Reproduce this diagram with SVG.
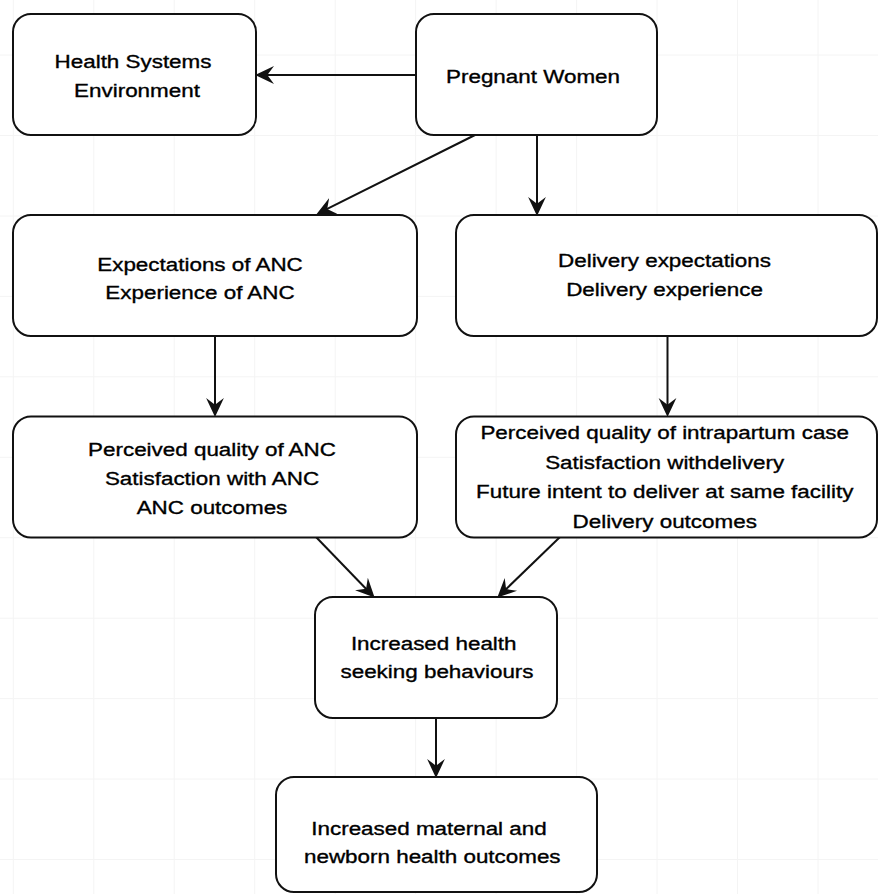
<svg xmlns="http://www.w3.org/2000/svg" width="878" height="894" viewBox="0 0 878 894">
<defs>
<style>
.grid line{stroke:#f4f4f4;stroke-width:1}
.node rect{fill:#fff;stroke:#111;stroke-width:2}
.node text{font-family:"Liberation Sans",Arial,sans-serif;font-size:19px;fill:#000;stroke:#000;stroke-width:0.35;text-anchor:middle}
.edges line{stroke:#111;stroke-width:2;fill:none;marker-end:url(#arr)}
</style>
<marker id="arr" markerUnits="userSpaceOnUse" markerWidth="20" markerHeight="20" viewBox="0 -9 18 18" refX="9" refY="0" orient="auto">
<path d="M17,0 L0,-8 L6,0 L0,8 Z" fill="#111"/>
</marker>
</defs>
<rect width="878" height="894" fill="#fff"/>
<g class="grid">
<line x1="13.3" y1="0" x2="13.3" y2="894"/>
<line x1="93.8" y1="0" x2="93.8" y2="894"/>
<line x1="174.2" y1="0" x2="174.2" y2="894"/>
<line x1="254.7" y1="0" x2="254.7" y2="894"/>
<line x1="335.2" y1="0" x2="335.2" y2="894"/>
<line x1="415.6" y1="0" x2="415.6" y2="894"/>
<line x1="496.1" y1="0" x2="496.1" y2="894"/>
<line x1="576.6" y1="0" x2="576.6" y2="894"/>
<line x1="657" y1="0" x2="657" y2="894"/>
<line x1="737.5" y1="0" x2="737.5" y2="894"/>
<line x1="818" y1="0" x2="818" y2="894"/>
<line x1="0" y1="55" x2="878" y2="55"/>
<line x1="0" y1="135.5" x2="878" y2="135.5"/>
<line x1="0" y1="216" x2="878" y2="216"/>
<line x1="0" y1="296.4" x2="878" y2="296.4"/>
<line x1="0" y1="376.8" x2="878" y2="376.8"/>
<line x1="0" y1="457.3" x2="878" y2="457.3"/>
<line x1="0" y1="537.7" x2="878" y2="537.7"/>
<line x1="0" y1="618.2" x2="878" y2="618.2"/>
<line x1="0" y1="698.6" x2="878" y2="698.6"/>
<line x1="0" y1="779" x2="878" y2="779"/>
<line x1="0" y1="859.5" x2="878" y2="859.5"/>
</g>
<g class="edges" id="connectors">
<line x1="416" y1="75" x2="264" y2="75"/>
<line x1="537" y1="135" x2="537" y2="207"/>
<line x1="475" y1="135" x2="324.2" y2="210.4"/>
<line x1="215" y1="336" x2="215" y2="408"/>
<line x1="667.5" y1="336" x2="667.5" y2="408"/>
<line x1="316" y1="537" x2="368.4" y2="591.2"/>
<line x1="560" y1="537" x2="503.7" y2="591.4"/>
<line x1="436" y1="718" x2="436" y2="769"/>
</g>
<g class="node" id="health-systems">
<rect x="13" y="14" width="243" height="121" rx="18"/>
<text transform="translate(133,0) scale(1.18,1)"><tspan x="0" y="68.3">Health Systems</tspan></text>
<text transform="translate(137,0) scale(1.18,1)"><tspan x="0" y="96.7">Environment</tspan></text>
</g>
<g class="node" id="pregnant-women">
<rect x="416" y="14" width="241" height="121" rx="18"/>
<text transform="translate(533,0) scale(1.18,1)"><tspan x="0" y="83">Pregnant Women</tspan></text>
</g>
<g class="node" id="anc-expectations">
<rect x="13" y="215" width="404" height="121" rx="18"/>
<text transform="translate(200,0) scale(1.18,1)"><tspan x="0" y="270.7">Expectations of ANC</tspan><tspan x="0" y="299.3">Experience of ANC</tspan></text>
</g>
<g class="node" id="delivery-expectations">
<rect x="456" y="215" width="421" height="121" rx="18"/>
<text transform="translate(664.5,0) scale(1.18,1)"><tspan x="0" y="266.7">Delivery expectations</tspan><tspan x="0" y="296">Delivery experience</tspan></text>
</g>
<g class="node" id="anc-quality">
<rect x="13" y="416.5" width="404" height="121" rx="18"/>
<text transform="translate(212,0) scale(1.18,1)"><tspan x="0" y="456">Perceived quality of ANC</tspan><tspan x="0" y="485">Satisfaction with ANC</tspan><tspan x="0" y="514">ANC outcomes</tspan></text>
</g>
<g class="node" id="delivery-quality">
<rect x="456" y="416.5" width="421" height="121" rx="18"/>
<text transform="translate(664.7,0) scale(1.18,1)"><tspan x="0" y="439.3">Perceived quality of intrapartum case</tspan><tspan x="0" y="469.3">Satisfaction withdelivery</tspan><tspan x="0" y="498.3">Future intent to deliver at same facility</tspan><tspan x="0" y="528.3">Delivery outcomes</tspan></text>
</g>
<g class="node" id="health-seeking">
<rect x="315" y="597" width="242" height="121" rx="18"/>
<text transform="translate(433.7,0) scale(1.18,1)"><tspan x="0" y="650">Increased health</tspan></text>
<text transform="translate(437,0) scale(1.18,1)"><tspan x="0" y="678.3">seeking behaviours</tspan></text>
</g>
<g class="node" id="health-outcomes">
<rect x="276" y="777" width="321" height="115" rx="18"/>
<text transform="translate(429,0) scale(1.18,1)"><tspan x="0" y="835">Increased maternal and</tspan></text>
<text transform="translate(432.3,0) scale(1.18,1)"><tspan x="0" y="863.3">newborn health outcomes</tspan></text>
</g>
</svg>
